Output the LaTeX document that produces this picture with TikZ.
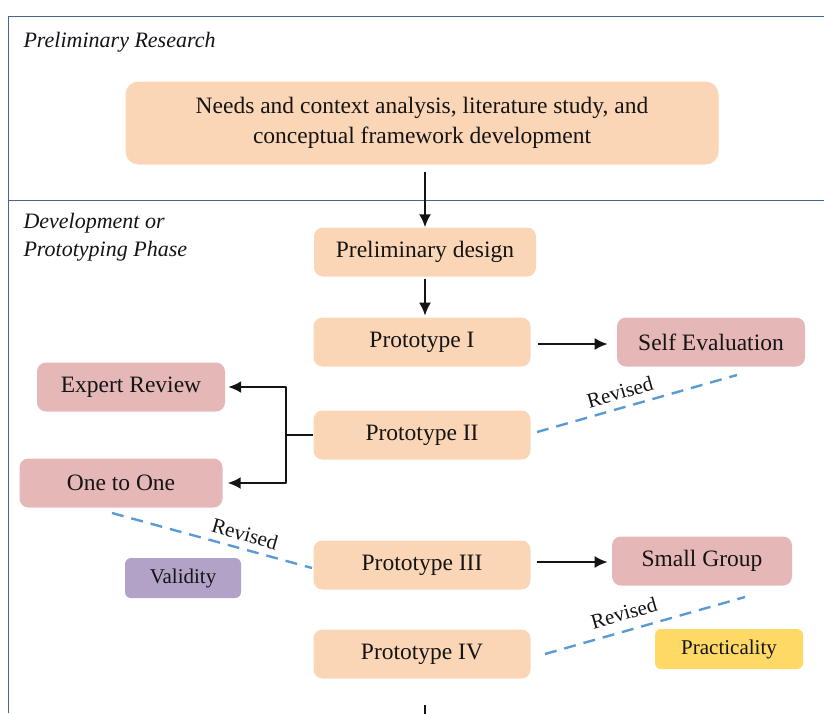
\documentclass[tikz,border=0pt]{standalone}
\usepackage{fontspec}
\setmainfont{Liberation Serif}
\usetikzlibrary{positioning,arrows.meta}
\definecolor{peach}{RGB}{251,214,182}
\definecolor{rose}{RGB}{229,184,183}
\definecolor{lilac}{RGB}{178,162,199}
\definecolor{gold}{RGB}{255,217,102}
\definecolor{frame}{RGB}{72,102,140}
\definecolor{revblue}{RGB}{91,155,213}
\definecolor{ink}{RGB}{20,20,20}
\tikzset{
  box/.style={rounded corners=9pt, minimum height=49pt, align=center, text=ink, font=\fontsize{23.5}{30}\selectfont},
  proto/.style={box, fill=peach, minimum width=217pt},
  evalbox/.style={box, fill=rose},
  tagbox/.style={rounded corners=6pt, minimum height=40pt, text=ink, font=\fontsize{21}{25}\selectfont},
  revline/.style={revblue, line width=2.4pt, dash pattern=on 12pt off 8pt},
  revlabel/.style={text=ink, font=\fontsize{21}{25}\selectfont},
  flow/.style={-{Latex[length=13pt,width=12pt]}, line width=2.2pt, ink},
  phase/.style={anchor=north west, align=left, text=ink, font=\fontsize{22}{28}\selectfont\itshape}
}
\begin{document}
\begin{tikzpicture}[x=1pt, y=-1pt, line join=round]
\useasboundingbox (0,0) rectangle (824,713);
% frame of the two phases
\draw[frame, line width=1pt] (824,16) -- (8,16) -- (8,713);
\draw[frame, line width=1pt] (8,200) -- (824,200);
\node[phase] (pr) at (20,29) {Preliminary Research};
\node[phase] (dp) at (20,210) {Development or\\Prototyping Phase};
% boxes
\node[box, fill=peach, rounded corners=13pt, minimum width=593pt, minimum height=83pt] (needs) at (422,123)
  {Needs and context analysis, literature study, and\\conceptual framework development};
\node[proto, minimum width=222pt] (pd) at (425,252) {Preliminary design};
\node[proto] (p1) at (422,342) {Prototype I};
\node[proto] (p2) at (422,435) {Prototype II};
\node[proto] (p3) at (422,565) {Prototype III};
\node[proto] (p4) at (422,654) {Prototype IV};
\node[evalbox, minimum width=188pt] (se) at (711,342) {Self Evaluation};
\node[evalbox, minimum width=188pt] (er) at (131,387) {Expert Review};
\node[evalbox, minimum width=203pt] (oo) at (121,483) {One to One};
\node[evalbox, minimum width=180pt] (sg) at (702,561) {Small Group};
\node[tagbox, fill=lilac, minimum width=116pt] (val) at (183,578) {Validity};
\node[tagbox, fill=gold, minimum width=148pt] (prac) at (729,649) {Practicality};
% arrows
\draw[flow] (needs.south -| pd.north) ++(0,7) -- (pd.north);
\draw[flow] (pd.south) ++(0,2) -- ++(0,37);
\draw[flow] (p1.east) ++(7,2) -- ++(70,0);
\draw[flow] (p3.east) ++(6,-3) -- ++(71,0);
\coordinate (fork) at (286,435);
\draw[line width=2.2pt, ink] (p2.west) -- (fork);
\draw[flow] (fork) |- ([xshift=3pt]er.east);
\draw[flow] (fork) |- ([xshift=5pt]oo.east);
\coordinate (out) at (425,705);
\draw[line width=2.2pt, ink] (out) -- (425,716);
% revisions
\coordinate (r1a) at (537,432); \coordinate (r1b) at (737,375);
\draw[revline] (r1a) -- (r1b);
\node[revlabel, rotate=16] (rv1) at (620,392) {Revised};
\coordinate (r2a) at (112,513); \coordinate (r2b) at (312,568);
\draw[revline] (r2a) -- (r2b);
\node[revlabel, rotate=-16] (rv2) at (245,534) {Revised};
\coordinate (r3a) at (545,654); \coordinate (r3b) at (745,597);
\draw[revline] (r3a) -- (r3b);
\node[revlabel, rotate=16] (rv3) at (624,613) {Revised};
\end{tikzpicture}
\end{document}
